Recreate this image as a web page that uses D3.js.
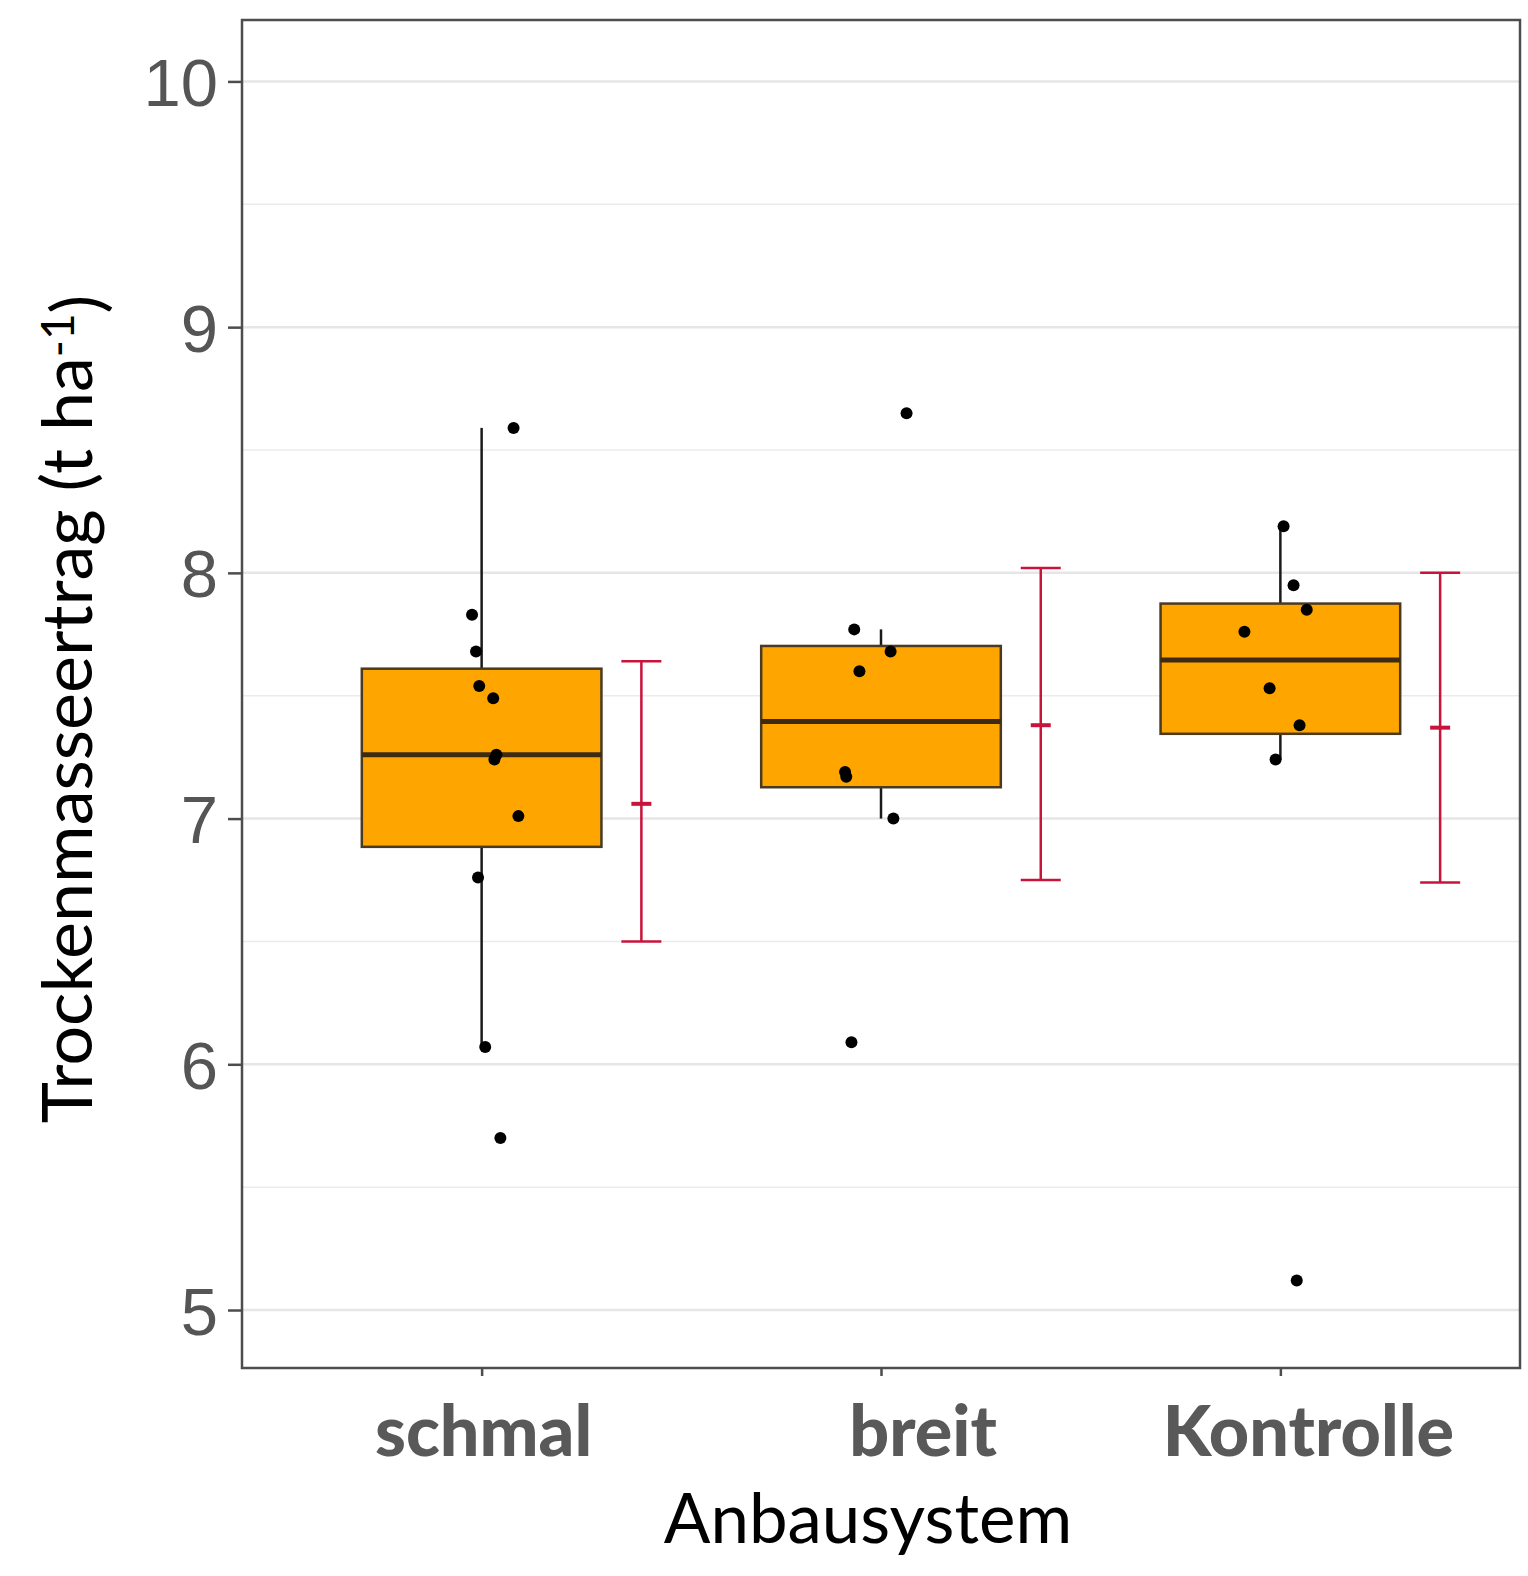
<!DOCTYPE html>
<html>
<head>
<meta charset="utf-8">
<script src="https://cdn.jsdelivr.net/npm/d3@7"></script>
<style>
  body { margin: 0; background: #fff; }
  svg { display: block; }
</style>
</head>
<body>
<div id="chart"></div>
<script>
// categories on the x axis
const categories = ["schmal", "breit", "Kontrolle"];

// raw observations per category (t/ha)
const schmalValues = [8.59, 7.83, 7.68, 7.54, 7.49, 7.26, 7.24, 7.01, 6.76, 6.07, 5.70];
const breitValues = [8.65, 7.77, 7.68, 7.60, 7.19, 7.17, 7.00, 6.09];
const kontrolleValues = [8.19, 7.95, 7.85, 7.76, 7.53, 7.38, 7.24, 5.12];

// horizontal jitter of the points, in category units
const schmalJitter = [0.080, -0.024, -0.014, -0.006, 0.029, 0.037, 0.032, 0.092, -0.009, 0.009, 0.047];
const breitJitter = [0.064, -0.067, 0.024, -0.054, -0.090, -0.087, 0.031, -0.074];
const kontrolleJitter = [0.008, 0.033, 0.066, -0.090, -0.027, 0.048, -0.012, 0.041];

// model estimate with confidence interval (red error bars)
const estimate = [7.06, 7.38, 7.37];
const ciLower = [6.50, 6.75, 6.74];
const ciUpper = [7.64, 8.02, 8.00];

const yTicks = [5, 6, 7, 8, 9, 10];
const yMinor = [5.5, 6.5, 7.5, 8.5, 9.5];

const groups = categories.map((c, i) => ({
    name: c,
    values: [schmalValues, breitValues, kontrolleValues][i],
    jitter: [schmalJitter, breitJitter, kontrolleJitter][i],
    est: estimate[i], lo: ciLower[i], hi: ciUpper[i]
}));

const width = 1528, height = 1576;
const plot = { left: 242, right: 1520, top: 20, bottom: 1368 };

const svg = d3.select("#chart").append("svg")
    .attr("width", width)
    .attr("height", height);

const x = d3.scalePoint()
    .domain(categories)
    .range([plot.left, plot.right])
    .padding(0.6);
const step = x.step();

const y = d3.scaleLinear()
    .domain([4.764, 10.25])
    .range([plot.bottom, plot.top]);

// grid
const grid = svg.append("g");
grid.selectAll(".minor").data(yMinor).enter().append("line")
    .attr("x1", plot.left).attr("x2", plot.right)
    .attr("y1", d => y(d)).attr("y2", d => y(d))
    .attr("stroke", "#ebebeb").attr("stroke-width", 1.5);
grid.selectAll(".major").data(yTicks).enter().append("line")
    .attr("x1", plot.left).attr("x2", plot.right)
    .attr("y1", d => y(d)).attr("y2", d => y(d))
    .attr("stroke", "#e6e6e6").attr("stroke-width", 2.5);

// box stats (R type 7 quantiles, 1.5 IQR whiskers)
groups.forEach(g => {
    const s = g.values.slice().sort(d3.ascending);
    g.q1 = d3.quantileSorted(s, 0.25);
    g.med = d3.quantileSorted(s, 0.5);
    g.q3 = d3.quantileSorted(s, 0.75);
    const iqr = g.q3 - g.q1;
    g.wLo = d3.min(s.filter(v => v >= g.q1 - 1.5 * iqr));
    g.wHi = d3.max(s.filter(v => v <= g.q3 + 1.5 * iqr));
});

const boxW = step * 0.6;
const boxes = svg.append("g").selectAll("g").data(groups).enter().append("g");

boxes.append("line")
    .attr("x1", d => x(d.name)).attr("x2", d => x(d.name))
    .attr("y1", d => y(d.wHi)).attr("y2", d => y(d.q3))
    .attr("stroke", "#1a1a1a").attr("stroke-width", 2.5);
boxes.append("line")
    .attr("x1", d => x(d.name)).attr("x2", d => x(d.name))
    .attr("y1", d => y(d.q1)).attr("y2", d => y(d.wLo))
    .attr("stroke", "#1a1a1a").attr("stroke-width", 2.5);
boxes.append("rect")
    .attr("x", d => x(d.name) - boxW / 2)
    .attr("width", boxW)
    .attr("y", d => y(d.q3))
    .attr("height", d => y(d.q1) - y(d.q3))
    .attr("fill", "#FFA500")
    .attr("stroke", "#4a3a22").attr("stroke-width", 2.5);
boxes.append("line")
    .attr("x1", d => x(d.name) - boxW / 2).attr("x2", d => x(d.name) + boxW / 2)
    .attr("y1", d => y(d.med)).attr("y2", d => y(d.med))
    .attr("stroke", "#3d2a12").attr("stroke-width", 5);

// jittered points
boxes.selectAll("circle")
    .data(d => d.values.map((v, i) => ({ v, cx: x(d.name) + d.jitter[i] * step })))
    .enter().append("circle")
    .attr("cx", d => d.cx)
    .attr("cy", d => y(d.v))
    .attr("r", 6)
    .attr("fill", "#000");

// red error bars, dodged to the right
const dodge = 0.4 * step;
const red = "#C8143C";
const eb = svg.append("g").selectAll("g").data(groups).enter().append("g")
    .attr("stroke", red).attr("stroke-width", 2.5);
eb.append("line")
    .attr("x1", d => x(d.name) + dodge).attr("x2", d => x(d.name) + dodge)
    .attr("y1", d => y(d.hi)).attr("y2", d => y(d.lo));
eb.append("line")
    .attr("x1", d => x(d.name) + dodge - 20).attr("x2", d => x(d.name) + dodge + 20)
    .attr("y1", d => y(d.hi)).attr("y2", d => y(d.hi));
eb.append("line")
    .attr("x1", d => x(d.name) + dodge - 20).attr("x2", d => x(d.name) + dodge + 20)
    .attr("y1", d => y(d.lo)).attr("y2", d => y(d.lo));
eb.append("line")
    .attr("x1", d => x(d.name) + dodge - 10).attr("x2", d => x(d.name) + dodge + 10)
    .attr("y1", d => y(d.est)).attr("y2", d => y(d.est))
    .attr("stroke-width", 4);

// panel border
svg.append("rect")
    .attr("x", plot.left).attr("y", plot.top)
    .attr("width", plot.right - plot.left)
    .attr("height", plot.bottom - plot.top)
    .attr("fill", "none")
    .attr("stroke", "#4d4d4d").attr("stroke-width", 2.5);

// y axis
const yAxis = svg.append("g")
    .attr("transform", `translate(${plot.left},0)`)
    .call(d3.axisLeft(y).tickValues(yTicks).tickSize(14).tickPadding(10).tickFormat(d3.format("d")));
yAxis.select(".domain").remove();
yAxis.selectAll("line").attr("stroke", "#4d4d4d").attr("stroke-width", 2.5);
yAxis.selectAll("text")
    .attr("fill", "#555")
    .style("font-family", "'Liberation Sans', Arial, sans-serif")
    .style("font-size", "67px")
    .attr("dy", "0.36em");

// x axis
const xAxis = svg.append("g")
    .attr("transform", `translate(0,${plot.bottom})`)
    .call(d3.axisBottom(x).tickSize(8).tickFormat(""));
xAxis.select(".domain").remove();
xAxis.selectAll("line").attr("stroke", "#4d4d4d").attr("stroke-width", 2.5);

// category labels (slightly shifted in the original)
const labelShift = { schmal: 2, breit: 42, Kontrolle: 28 };
svg.append("g").selectAll("text").data(categories).enter().append("text")
    .attr("x", d => x(d) + labelShift[d])
    .attr("y", 1456)
    .attr("text-anchor", "middle")
    .attr("fill", "#595959")
    .style("font-family", "Lato, 'Open Sans', sans-serif")
    .style("font-weight", "900")
    .style("font-size", "70px")
    .text(d => d);

// axis titles
svg.append("text")
    .attr("x", 868).attr("y", 1543)
    .attr("text-anchor", "middle")
    .attr("fill", "#000")
    .style("font-family", "Lato, 'Open Sans', sans-serif")
    .style("font-size", "69px")
    .text("Anbausystem");

const yt = svg.append("text")
    .attr("transform", "translate(92,709) rotate(-90)")
    .attr("text-anchor", "middle")
    .attr("fill", "#000")
    .style("font-family", "Lato, 'Open Sans', sans-serif")
    .style("font-size", "70px");
yt.append("tspan").text("Trockenmasseertrag (t ha");
yt.append("tspan").attr("dy", "-0.4em").style("font-size", "46px").text("-1");
yt.append("tspan").attr("dy", "0.4em").text(")");
</script>
</body>
</html>
